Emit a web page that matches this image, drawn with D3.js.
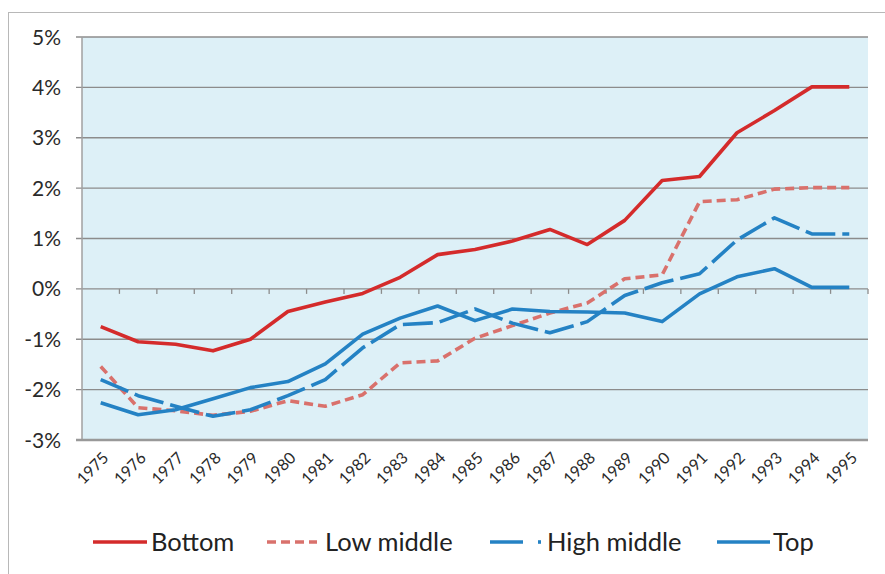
<!DOCTYPE html>
<html><head><meta charset="utf-8">
<script src="https://cdn.jsdelivr.net/npm/d3@7"></script>
<style>body{margin:0;background:#fff;}svg{display:block;font-family:Lato,"Open Sans",sans-serif;}</style>
</head><body>
<svg id="c" width="885" height="574"></svg>
<script>
const years = ["1975","1976","1977","1978","1979","1980","1981","1982","1983","1984","1985","1986","1987","1988","1989","1990","1991","1992","1993","1994","1995"];
const bottom     = [-0.75,-1.05,-1.10,-1.23,-1.00,-0.45,-0.26,-0.09,0.23,0.68,0.78,0.95,1.18,0.88,1.36,2.15,2.23,3.10,3.54,4.01,4.01];
const lowMiddle  = [-1.54,-2.36,-2.42,-2.51,-2.43,-2.22,-2.33,-2.10,-1.47,-1.43,-0.98,-0.73,-0.48,-0.28,0.20,0.28,1.73,1.77,1.98,2.01,2.01];
const highMiddle = [-1.80,-2.12,-2.33,-2.53,-2.40,-2.12,-1.80,-1.17,-0.71,-0.67,-0.40,-0.68,-0.87,-0.65,-0.13,0.12,0.30,0.97,1.41,1.09,1.09];
const top_       = [-2.26,-2.50,-2.40,-2.18,-1.96,-1.84,-1.49,-0.90,-0.58,-0.34,-0.63,-0.40,-0.45,-0.46,-0.48,-0.65,-0.10,0.24,0.40,0.03,0.03];
const yTicks = [-3,-2,-1,0,1,2,3,4,5];
const seriesNames = ["Bottom","Low middle","High middle","Top"];

const series = [
  {name:seriesNames[0], values:bottom, color:"#d42b2b", dash:null},
  {name:seriesNames[1], values:lowMiddle, color:"#d9716c", dash:"9,5"},
  {name:seriesNames[2], values:highMiddle, color:"#2482c4", dash:"30,7"},
  {name:seriesNames[3], values:top_, color:"#2482c4", dash:null}
];

const svg = d3.select("#c");
const L=82, R=868, T=37, B=440;
svg.append("rect").attr("x",8.5).attr("y",12.5).attr("width",900).attr("height",570)
  .attr("fill","#fff").attr("stroke","#b8b8b8").attr("stroke-width",1);

const x = d3.scaleBand().domain(years).range([L,R]).padding(0);
const y = d3.scaleLinear().domain([-3,5]).range([B,T]);

svg.append("rect").attr("x",L).attr("y",T).attr("width",R-L).attr("height",B-T).attr("fill","#ddf0f7");

svg.append("g").selectAll("line").data(yTicks.filter(d=>d>-3)).join("line")
  .attr("x1",L-6).attr("x2",R).attr("y1",d=>y(d)).attr("y2",d=>y(d))
  .attr("stroke","#8c8c8c").attr("stroke-width",1.3);
svg.append("g").selectAll("text").data(yTicks).join("text")
  .attr("x",61).attr("y",d=>y(d)).attr("dy","0.36em").attr("text-anchor","end")
  .attr("font-size",21).attr("fill","#2a2a2a").text(d=>d+"%");
svg.append("line").attr("x1",L).attr("x2",L).attr("y1",T).attr("y2",B).attr("stroke","#a0a0a0").attr("stroke-width",1.5);
svg.append("line").attr("x1",L-6).attr("x2",R).attr("y1",B).attr("y2",B).attr("stroke","#999").attr("stroke-width",2.5);
const bounds = years.map(d=>x(d)).concat([R]).slice(1);
svg.append("g").selectAll("line").data(bounds).join("line")
  .attr("x1",d=>d).attr("x2",d=>d).attr("y1",y(0)).attr("y2",y(0)+5)
  .attr("stroke","#8c8c8c").attr("stroke-width",1.3);

svg.append("g").selectAll("text").data(years).join("text")
  .attr("transform",d=>`translate(${x(d)+x.bandwidth()/2+5},${B+15}) rotate(-45)`)
  .attr("text-anchor","end").attr("dy","0.35em").attr("font-size",16).attr("fill","#2a2a2a").text(d=>d);

const line = d3.line().x((d,i)=>x(years[i])+x.bandwidth()/2).y(d=>y(d));
series.forEach(s=>{
  svg.append("path").datum(s.values).attr("d",line).attr("fill","none")
    .attr("stroke",s.color).attr("stroke-width",3.6).attr("stroke-linejoin","round")
    .attr("stroke-dasharray",s.dash);
});

const leg = [
  {x:93, w:54, tx:151},
  {x:267, w:50, tx:325},
  {x:490, w:50, tx:547},
  {x:717, w:53, tx:773}
];
series.forEach((s,i)=>{
  const g = svg.append("g");
  const ly = 542;
  if(i===2){
    g.append("line").attr("x1",leg[i].x).attr("x2",leg[i].x+33).attr("y1",ly).attr("y2",ly).attr("stroke",s.color).attr("stroke-width",3.6);
    g.append("line").attr("x1",leg[i].x+48).attr("x2",leg[i].x+51).attr("y1",ly).attr("y2",ly).attr("stroke",s.color).attr("stroke-width",3.6);
  } else {
    g.append("line").attr("x1",leg[i].x).attr("x2",leg[i].x+leg[i].w).attr("y1",ly).attr("y2",ly)
      .attr("stroke",s.color).attr("stroke-width",3.6).attr("stroke-dasharray",s.dash);
  }
  g.append("text").attr("x",leg[i].tx).attr("y",ly).attr("dy","0.36em").attr("font-size",25.5).attr("fill","#222").text(s.name);
});
</script>
</body></html>
